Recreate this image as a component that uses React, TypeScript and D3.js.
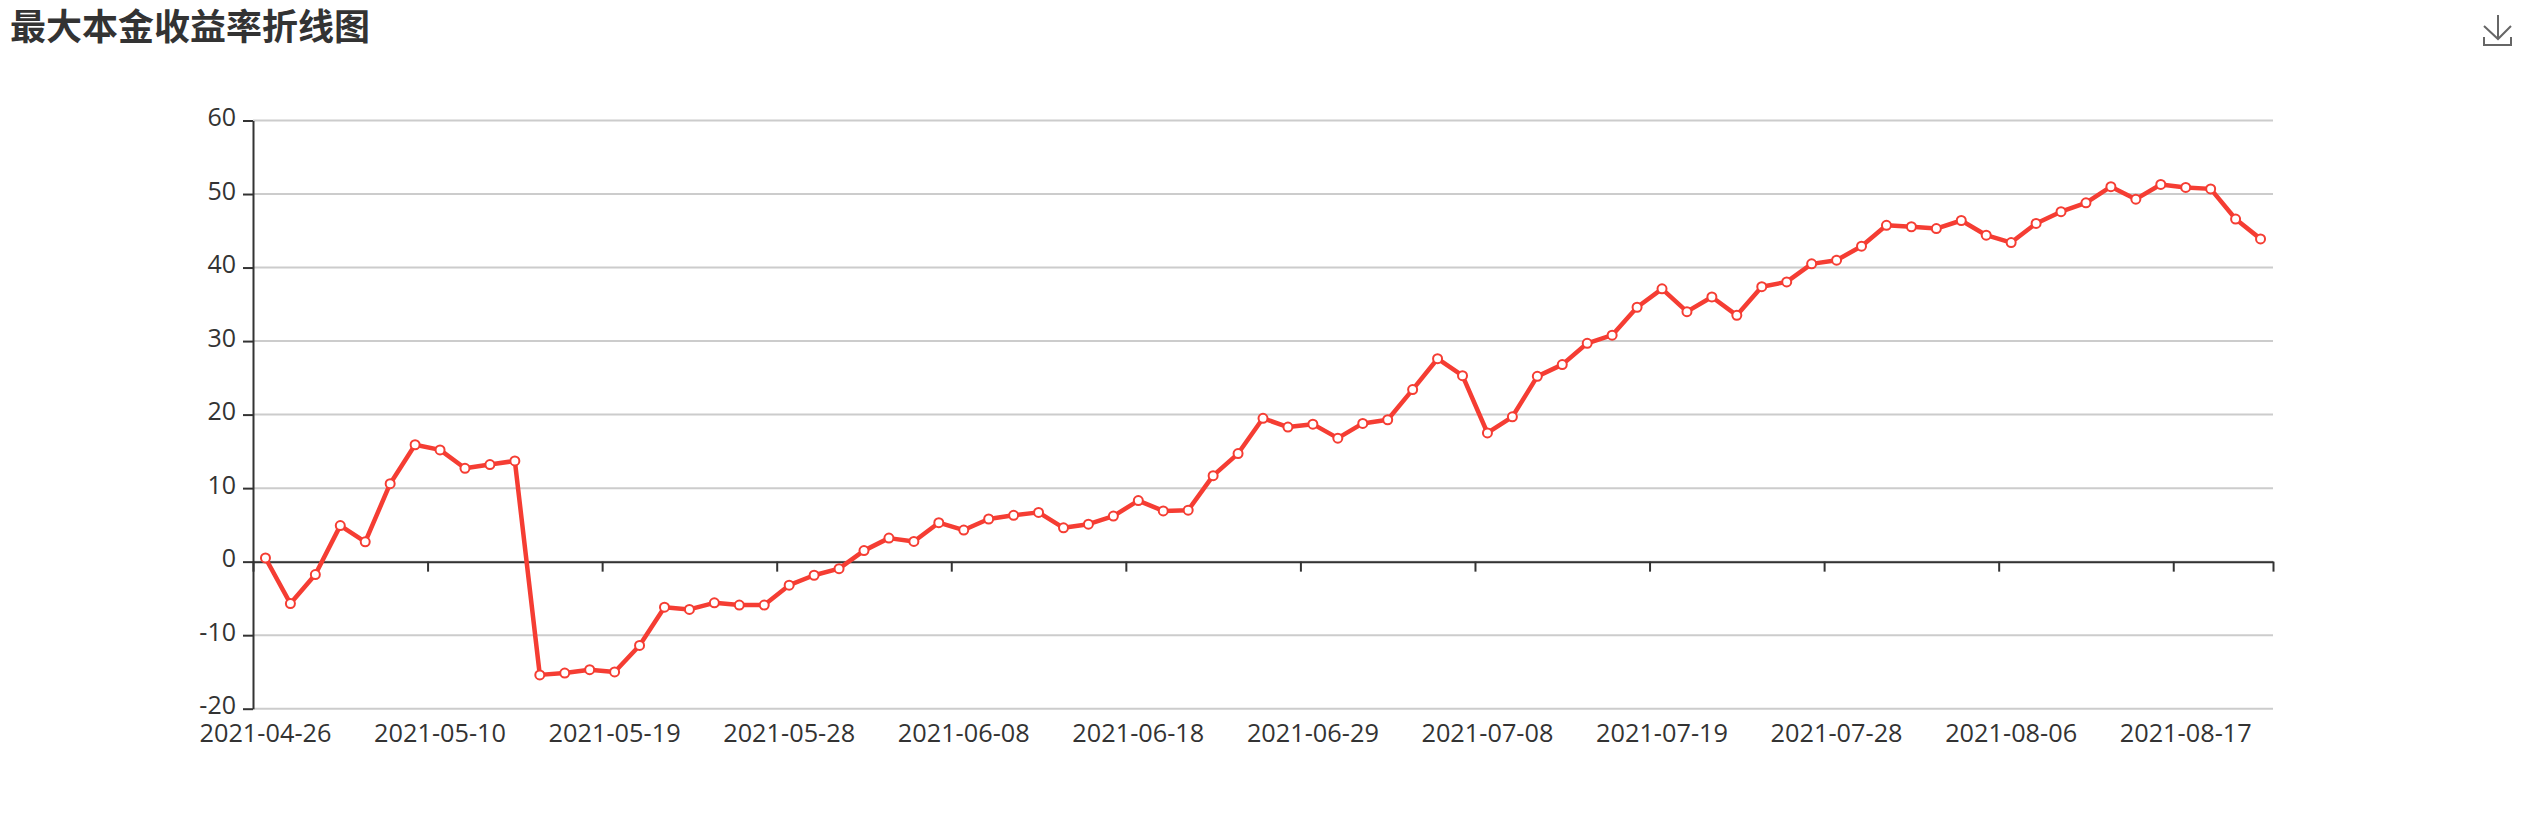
import React, { useEffect, useRef } from "react";
import * as d3 from "d3";

const titleText = "最大本金收益率折线图";
const dates = [
  "2021-04-26","2021-04-27","2021-04-28","2021-04-29","2021-04-30","2021-05-06","2021-05-07","2021-05-10",
  "2021-05-11","2021-05-12","2021-05-13","2021-05-14","2021-05-17","2021-05-18","2021-05-19",
  "2021-05-20","2021-05-21","2021-05-24","2021-05-25","2021-05-26","2021-05-27","2021-05-28",
  "2021-05-31","2021-06-01","2021-06-02","2021-06-03","2021-06-04","2021-06-07","2021-06-08",
  "2021-06-09","2021-06-10","2021-06-11","2021-06-15","2021-06-16","2021-06-17","2021-06-18",
  "2021-06-21","2021-06-22","2021-06-23","2021-06-24","2021-06-25","2021-06-28","2021-06-29",
  "2021-06-30","2021-07-01","2021-07-02","2021-07-05","2021-07-06","2021-07-07","2021-07-08",
  "2021-07-09","2021-07-12","2021-07-13","2021-07-14","2021-07-15","2021-07-16","2021-07-19",
  "2021-07-20","2021-07-21","2021-07-22","2021-07-23","2021-07-26","2021-07-27","2021-07-28",
  "2021-07-29","2021-07-30","2021-08-02","2021-08-03","2021-08-04","2021-08-05","2021-08-06",
  "2021-08-09","2021-08-10","2021-08-11","2021-08-12","2021-08-13","2021-08-16","2021-08-17",
  "2021-08-18","2021-08-19","2021-08-20",
];
const returns = [
  0.5,-5.7,-1.75,4.9,2.7,10.6,15.9,15.2,12.7,13.2,13.7,
  -15.4,-15.15,-14.7,-15,-11.4,-6.2,-6.5,-5.6,-5.9,-5.9,
  -3.2,-1.85,-0.95,1.5,3.2,2.75,5.3,4.3,5.8,6.3,6.7,4.6,5.1,6.2,8.3,6.9,7.0,
  11.7,14.7,19.5,18.3,18.7,16.8,18.8,19.3,23.4,27.6,25.3,17.5,19.7,25.2,26.8,29.7,30.8,34.6,37.1,34.0,
  36.0,33.5,37.4,38.05,40.5,41.0,42.9,45.75,45.55,45.3,46.4,44.4,43.4,46.0,47.6,48.8,51.0,49.3,51.3,50.9,50.7,46.6,43.9,
];
const yTicks = [-20,-10,0,10,20,30,40,50,60];
const labelStep = 7;

const W = 2526, H = 828;
const L = 253, R = 2273, T = 120.5, B = 708.7;
const INK = "#333", GRID = "#ccc", RED = "#f53d33";
const FONT = '"Open Sans","Noto Sans CJK SC",sans-serif';

export default function App() {
  const ref = useRef<SVGSVGElement>(null);
  useEffect(() => {
    const svg = d3.select(ref.current);
    svg.selectAll("*").remove();
    const x = d3.scaleBand<string>().domain(dates).range([L, R]);
    const idx = d3.scaleLinear().domain([0, dates.length]).range([L, R]);
    const y = d3.scaleLinear().domain([-20, 60]).range([B, T]);
    const cx = (d: string) => (x(d) as number) + x.bandwidth() / 2;

    svg.append("g").selectAll("line").data(yTicks).join("line")
      .attr("x1", L).attr("x2", R).attr("y1", d => y(d)).attr("y2", d => y(d))
      .attr("stroke", GRID).attr("stroke-width", 2);

    const yAxis = d3.axisLeft(y).tickValues(yTicks).tickSize(10).tickSizeOuter(0).tickPadding(7).tickFormat((d: any) => String(d));
    const gy = svg.append("g").attr("transform", `translate(${L},0)`).call(yAxis as any);
    gy.selectAll(".domain").attr("stroke", INK).attr("stroke-width", 2);
    gy.selectAll("line").attr("stroke", INK).attr("stroke-width", 2);
    gy.selectAll("text").attr("fill", INK).attr("font-size", 25).attr("font-family", FONT).attr("y", -3);

    const tickIdx = [...d3.range(0, dates.length, labelStep), dates.length];
    const xLine = d3.axisBottom(idx).tickValues(tickIdx).tickSize(10).tickSizeOuter(0).tickFormat(() => "");
    const gx = svg.append("g").attr("transform", `translate(0,${y(0)})`).call(xLine as any);
    gx.selectAll(".domain").attr("stroke", INK).attr("stroke-width", 2);
    gx.selectAll("line").attr("stroke", INK).attr("stroke-width", 2);

    const xLabels = d3.axisBottom(x).tickValues(dates.filter((_, i) => i % labelStep === 0)).tickSize(0).tickPadding(15);
    const gl = svg.append("g").attr("transform", `translate(0,${B})`).call(xLabels as any);
    gl.select(".domain").remove();
    gl.selectAll("text").attr("fill", INK).attr("font-size", 25.3).attr("font-family", FONT);

    const line = d3.line<number>().x((_, i) => cx(dates[i])).y(d => y(d));
    svg.append("path").datum(returns).attr("d", line)
      .attr("fill", "none").attr("stroke", RED).attr("stroke-width", 4.5).attr("stroke-linejoin", "round");
    svg.append("g").selectAll("circle").data(returns).join("circle")
      .attr("cx", (_, i) => cx(dates[i])).attr("cy", d => y(d)).attr("r", 4.5)
      .attr("fill", "#fff").attr("stroke", RED).attr("stroke-width", 2);

    svg.append("text").text(titleText).attr("x", 10).attr("y", 39.5)
      .attr("font-size", 36).attr("font-weight", 700).attr("fill", INK)
      .attr("font-family", '"Noto Sans CJK SC",sans-serif');

    svg.append("path").attr("d", d3.line()([[2498,15],[2498,39]]) + d3.line()([[2484,26],[2498,39],[2511,26]]) + d3.line()([[2484,37],[2484,45],[2511,45],[2511,37]]))
      .attr("fill", "none").attr("stroke", "#666").attr("stroke-width", 2);
  }, []);
  return <svg ref={ref} width={W} height={H} style={{ position: "absolute", left: 0, top: 0, background: "#fff" }} />;
}
